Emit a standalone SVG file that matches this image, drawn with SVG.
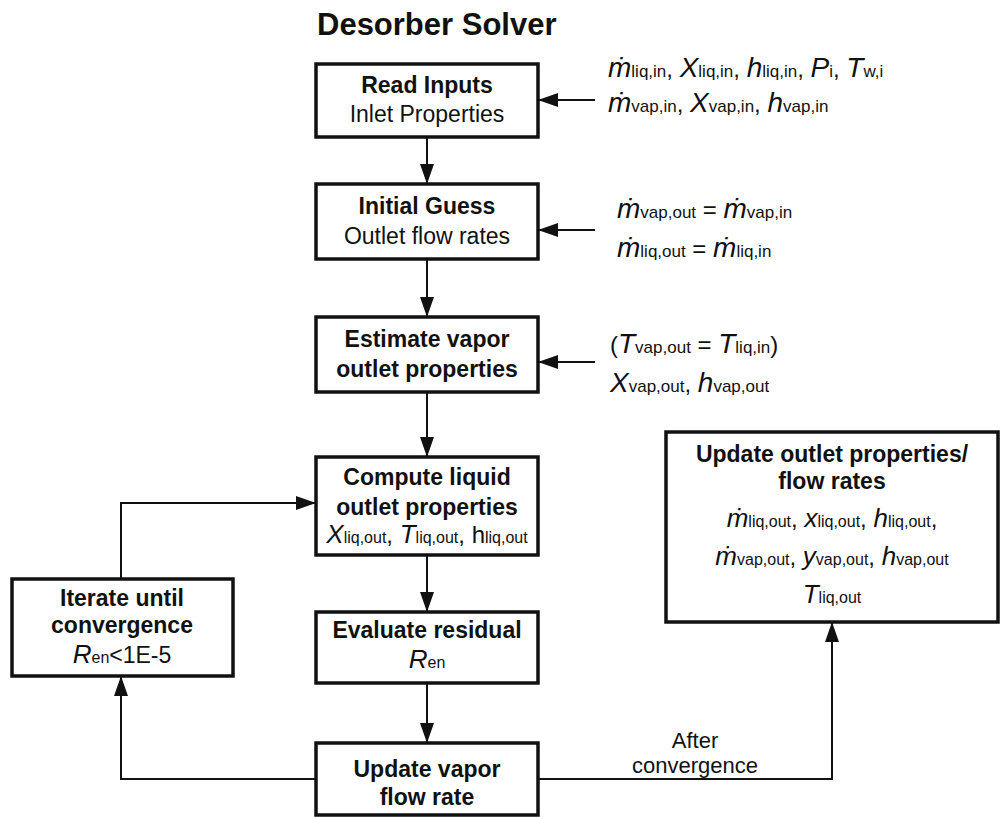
<svg xmlns="http://www.w3.org/2000/svg" width="1002" height="817" viewBox="0 0 1002 817">
<defs>
<marker id="arr" markerUnits="userSpaceOnUse" markerWidth="20" markerHeight="14" refX="20" refY="7" orient="auto">
<path d="M0,0 L20,7 L0,14 z" fill="#111"/>
</marker>
<style>
text{font-family:"Liberation Sans","Arial",sans-serif;fill:#111;}
.box{fill:#fff;stroke:#111;stroke-width:3.5;}
.b{font-weight:bold;font-size:23px;}
.r{font-size:23px;}
.m{font-size:24px;}
.i{font-style:italic;font-size:26px;}
.s{font-size:16px;}
.I{font-style:italic;font-size:28px;}
.S{font-size:17px;}
.c{text-anchor:middle;}
.con{fill:none;stroke:#111;stroke-width:2;marker-end:url(#arr);}
</style>
</defs>
<rect width="1002" height="817" fill="#fff"/>
<text id="title" x="317" y="35" style="font-weight:bold;font-size:31px">Desorber Solver</text>

<g id="connectors">
<path class="con" d="M427,137 V184"/>
<path class="con" d="M427,259 V317"/>
<path class="con" d="M427,392 V457"/>
<path class="con" d="M427,555 V612"/>
<path class="con" d="M427,683 V743"/>
<path class="con" d="M595,100 H538"/>
<path class="con" d="M595,230 H538"/>
<path class="con" d="M595,362 H538"/>
<path class="con" d="M121,579 V503 H316"/>
<path class="con" d="M316,779 H121 V676"/>
<path class="con" d="M538,779 H832 V622"/>
</g>

<g id="read-inputs">
<rect class="box" x="316" y="64" width="222" height="73"/>
<text class="b c" x="427" y="93">Read Inputs</text>
<text class="r c" x="427" y="122">Inlet Properties</text>
</g>
<g id="inputs-text">
<text x="608" y="77"><tspan class="I">ṁ</tspan><tspan class="S">liq,in</tspan><tspan class="m">, </tspan><tspan class="I">X</tspan><tspan class="S">liq,in</tspan><tspan class="m">, </tspan><tspan class="I">h</tspan><tspan class="S">liq,in</tspan><tspan class="m">, </tspan><tspan class="I">P</tspan><tspan class="S">i</tspan><tspan class="m">,  </tspan><tspan class="I">T</tspan><tspan class="S">w,i</tspan></text>
<text x="608" y="112"><tspan class="I">ṁ</tspan><tspan class="S">vap,in</tspan><tspan class="m">, </tspan><tspan class="I">X</tspan><tspan class="S">vap,in</tspan><tspan class="m">, </tspan><tspan class="I">h</tspan><tspan class="S">vap,in</tspan></text>
</g>

<g id="initial-guess">
<rect class="box" x="316" y="184" width="222" height="75"/>
<text class="b c" x="427" y="214">Initial Guess</text>
<text class="r c" x="427" y="244">Outlet flow rates</text>
</g>
<g id="guess-text">
<text x="617" y="218"><tspan class="I">ṁ</tspan><tspan class="S">vap,out</tspan><tspan class="m"> = </tspan><tspan class="I">ṁ</tspan><tspan class="S">vap,in</tspan></text>
<text x="617" y="257"><tspan class="I">ṁ</tspan><tspan class="S">liq,out</tspan><tspan class="m"> = </tspan><tspan class="I">ṁ</tspan><tspan class="S">liq,in</tspan></text>
</g>

<g id="estimate-vapor">
<rect class="box" x="316" y="317" width="222" height="75"/>
<text class="b c" x="427" y="347">Estimate vapor</text>
<text class="b c" x="427" y="377">outlet properties</text>
</g>
<g id="estimate-text">
<text x="610" y="353"><tspan class="m">(</tspan><tspan class="I">T</tspan><tspan class="S">vap,out</tspan><tspan class="m"> = </tspan><tspan class="I">T</tspan><tspan class="S">liq,in</tspan><tspan class="m">)</tspan></text>
<text x="610" y="392"><tspan class="I">X</tspan><tspan class="S">vap,out</tspan><tspan class="m">, </tspan><tspan class="I">h</tspan><tspan class="S">vap,out</tspan></text>
</g>

<g id="compute-liquid">
<rect class="box" x="316" y="457" width="222" height="98"/>
<text class="b c" x="427" y="485">Compute liquid</text>
<text class="b c" x="427" y="515">outlet properties</text>
<text class="c" x="427" y="543"><tspan class="i">X</tspan><tspan class="s">liq,out</tspan><tspan class="m">, </tspan><tspan class="i">T</tspan><tspan class="s">liq,out</tspan><tspan class="m">, h</tspan><tspan class="s">liq,out</tspan></text>
</g>

<g id="evaluate-residual">
<rect class="box" x="316" y="612" width="222" height="71"/>
<text class="b c" x="427" y="638">Evaluate residual</text>
<text class="c" x="427" y="668"><tspan class="i">R</tspan><tspan class="s">en</tspan></text>
</g>

<g id="update-vapor">
<rect class="box" x="316" y="743" width="222" height="72"/>
<text class="b c" x="427" y="777">Update vapor</text>
<text class="b c" x="427" y="805">flow rate</text>
</g>

<g id="iterate">
<rect class="box" x="12" y="579" width="221" height="97"/>
<text class="b c" x="122" y="606">Iterate until</text>
<text class="b c" x="122" y="633">convergence</text>
<text class="c" x="122" y="663"><tspan class="i">R</tspan><tspan class="s">en</tspan><tspan class="r">&lt;1E-5</tspan></text>
</g>

<g id="update-outlet">
<rect class="box" x="666" y="432" width="332" height="190"/>
<text class="b c" x="832" y="462">Update outlet properties/</text>
<text class="b c" x="832" y="489">flow rates</text>
<text class="c" x="832" y="527"><tspan class="i">ṁ</tspan><tspan class="s">liq,out</tspan><tspan class="m">, </tspan><tspan class="i">x</tspan><tspan class="s">liq,out</tspan><tspan class="m">, </tspan><tspan class="i">h</tspan><tspan class="s">liq,out</tspan><tspan class="m">,</tspan></text>
<text class="c" x="832" y="565"><tspan class="i">ṁ</tspan><tspan class="s">vap,out</tspan><tspan class="m">, </tspan><tspan class="i">y</tspan><tspan class="s">vap,out</tspan><tspan class="m">, </tspan><tspan class="i">h</tspan><tspan class="s">vap,out</tspan></text>
<text class="c" x="832" y="603"><tspan class="i">T</tspan><tspan class="s">liq,out</tspan></text>
</g>

<g id="after-label">
<text class="c" x="695" y="748" style="font-size:22px">After</text>
<text class="c" x="695" y="773" style="font-size:22px">convergence</text>
</g>
</svg>
